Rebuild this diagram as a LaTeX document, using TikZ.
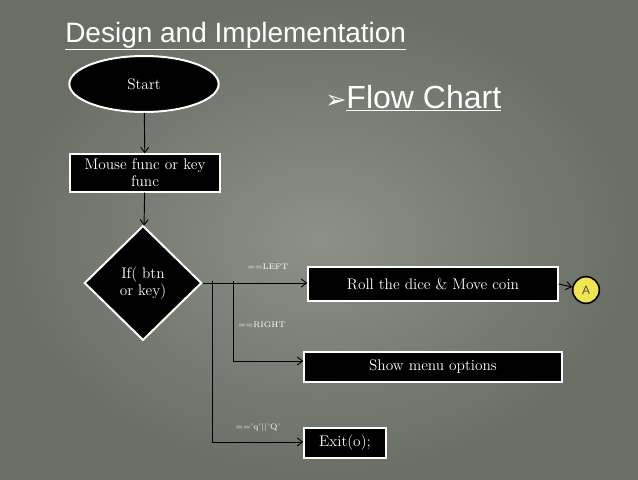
\documentclass[tikz,border=0pt]{standalone}
\usepackage{fontspec}
\newfontfamily\tsans{Liberation Sans}
\newfontfamily\dv{DejaVu Sans}
\usetikzlibrary{shapes.geometric,arrows.meta}
\definecolor{bg}{HTML}{8C9087}
\definecolor{bgd}{HTML}{6A6F66}
\definecolor{ay}{HTML}{F0E650}
\tikzset{
 px/.style={x=0.75pt,y=-0.75pt},
 blk/.style={draw=white,line width=1.5pt,fill=black,text=white,font=\fontsize{11.5}{13}\selectfont,align=center,inner sep=2pt},
 conn/.style={draw=black,line width=0.7pt,-{Straight Barb[length=4pt,width=6pt]}},
 ln/.style={draw=black,line width=0.7pt},
 lab/.style={text=white,font=\fontsize{6}{7}\selectfont,inner sep=1pt}
}
\begin{document}
\begin{tikzpicture}[px]
\useasboundingbox (0,0) rectangle (638,479);
\shade[inner color=bg,outer color=bgd] (0,0) rectangle (638,479);
\node[anchor=base west,text=white,font=\tsans\fontsize{21}{24}\selectfont,inner sep=0] (title) at (65,42) {\underline{Design and Implementation}};
\node[anchor=base west,text=white,font=\tsans\fontsize{24}{27}\selectfont,inner sep=0] (fc) at (325,108) {{\dv\fontsize{19}{22}\selectfont ➢}\underline{Flow Chart}};
\node[blk,ellipse,minimum width=112pt,minimum height=42pt] (start) at (144,84) {Start};
\node[blk,minimum width=113pt,minimum height=28pt,text width=105pt,inner sep=1pt] (mouse) at (145,173) {Mouse func or key\\func};
\node[blk,diamond,minimum width=88pt,minimum height=86pt,aspect=1] (dec) at (143,283) {If( btn\\or key)};
\node[blk,minimum width=187pt,minimum height=26pt] (roll) at (433,284) {Roll the dice \& Move coin};
\node[blk,minimum width=193pt,minimum height=23pt] (show) at (433,367) {Show menu options};
\node[blk,minimum width=61pt,minimum height=22pt] (exit) at (345,443) {Exit(o);};
\node[circle,draw=black,line width=1.2pt,fill=ay,minimum size=20pt,inner sep=0,font=\tsans\fontsize{9}{10}\selectfont,text=black!70] (A) at (586,290) {A};
\draw[conn] (start) -- (mouse);
\draw[conn] (mouse) -- (dec);
\coordinate (j1) at (233,281);
\coordinate (j2) at (212,281);
\draw[conn] (dec.east) -- (roll.west |- dec.east);
\draw[ln] (j1) -- (233,361);
\draw[conn] (233,361) -- (show.west |- 0,361);
\draw[ln] (j2) -- (212,442);
\draw[conn] (212,442) -- (exit.west |- 0,442);
\draw[conn] (roll.east) -- (A);
\node[lab] (l1) at (268,267) {==LEFT};
\node[lab] (l2) at (262,325) {==RIGHT};
\node[lab] (l3) at (258,427) {=='q'||'Q'};
\end{tikzpicture}
\end{document}
